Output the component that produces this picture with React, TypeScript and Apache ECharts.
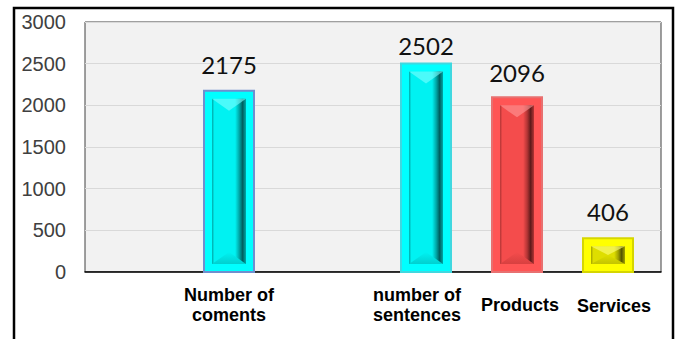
import React, { useEffect, useRef } from "react";
import * as echarts from "echarts";

// ---- data ----
const groups = ["Number of coments", "number of sentences"];
const barNames = ["Number of\ncoments", "number of\nsentences", "Products", "Services"];
const barGroup = [0, 1, 1, 1];
const barValues = [2175, 2502, 2096, 406];
const yMin = 0;
const yMax = 3000;
const yStep = 500;

// ---- styles ----
const BAR_W = 50;
const BAR_PITCH = 91;
const INSET = 8;
const valueRise = [26, 18, 25, 27];
const nameDx = [0, -9, 3, 6];
const nameDy = [33, 33, 33, 34];

const palettes = [
  { outline: "#6f8fcf", frame: "#00ffff", face: "#00f2f2", shade: "#00a8a8", dark: "#005e5e", light: "#7dffff", bottom: "#00d0d0" },
  { outline: "#3fd8e0", frame: "#00ffff", face: "#00f2f2", shade: "#00a8a8", dark: "#005e5e", light: "#7dffff", bottom: "#00d0d0" },
  { outline: "#e87070", frame: "#ff5555", face: "#f44c4c", shade: "#b33535", dark: "#5e1a1a", light: "#ff9a9a", bottom: "#d84040" },
  { outline: "#d6d600", frame: "#ffff00", face: "#dede00", shade: "#a3a300", dark: "#555500", light: "#ffff80", bottom: "#c4c400" },
];

export default function App() {
  const ref = useRef<HTMLDivElement>(null);
  useEffect(() => {
    if (!ref.current) return;
    const chart = echarts.init(ref.current, undefined, { renderer: "svg" });

    const renderItem = (params: any, api: any) => {
      const i = params.dataIndex;
      const g = barGroup[i];
      const members = barGroup.map((gg, k) => (gg === g ? k : -1)).filter((k) => k >= 0);
      const slot = members.indexOf(i);
      const top = api.coord([api.value(0), api.value(1)]);
      const base = api.coord([api.value(0), 0]);
      const cx = top[0] + (slot - (members.length - 1) / 2) * BAR_PITCH;
      const x0 = cx - BAR_W / 2;
      const h = base[1] - top[1];
      const p = palettes[i];
      const ix0 = x0 + INSET;
      const ix1 = x0 + BAR_W - INSET;
      const iy0 = top[1] + INSET;
      const iy1 = base[1] - INSET;
      const ih = iy1 - iy0;
      const tri = Math.min(12, ih / 2);
      const children: any[] = [
        {
          type: "rect",
          shape: { x: x0, y: top[1], width: BAR_W, height: h },
          style: { fill: p.frame, stroke: p.outline, lineWidth: 2 },
        },
        {
          type: "rect",
          shape: { x: ix0, y: iy0, width: ix1 - ix0, height: ih },
          style: {
            fill: new echarts.graphic.LinearGradient(0, 0, 1, 0, [
              { offset: 0, color: p.shade },
              { offset: 0.07, color: p.face },
              { offset: 0.68, color: p.face },
              { offset: 0.8, color: p.shade },
              { offset: 0.9, color: p.dark },
              { offset: 1, color: p.shade },
            ]),
          },
        },
        {
          type: "polygon",
          shape: { points: [[ix0, iy0], [ix1, iy0], [cx, iy0 + tri]] },
          style: { fill: p.light, opacity: 0.6 },
        },
        {
          type: "polygon",
          shape: { points: [[ix0, iy1], [ix1, iy1], [cx, iy1 - tri]] },
          style: {
            fill: new echarts.graphic.LinearGradient(0, 0, 0, 1, [
              { offset: 0, color: p.face },
              { offset: 1, color: p.bottom },
            ]),
          },
        },
        {
          type: "text",
          style: {
            text: String(barValues[i]),
            x: cx,
            y: top[1] - valueRise[i],
            fill: "#111",
            font: "24px Lato, 'Noto Sans', sans-serif",
            align: "center",
            verticalAlign: "middle",
          },
        },
        {
          type: "text",
          style: {
            text: barNames[i],
            x: cx + nameDx[i],
            y: base[1] + nameDy[i],
            fill: "#000",
            font: "bold 18px 'Liberation Sans', Arial, sans-serif",
            lineHeight: 20,
            align: "center",
            verticalAlign: "middle",
          },
        },
      ];
      return { type: "group", children };
    };

    chart.setOption({
      animation: false,
      grid: {
        left: 85,
        top: 22,
        right: 20,
        bottom: 67,
        show: true,
        backgroundColor: "#f2f2f2",
        borderColor: "#404040",
        borderWidth: 1,
      },
      graphic: [
        {
          type: "rect",
          shape: { x: 14, y: 8, width: 659, height: 345 },
          style: { fill: "none", stroke: "#000", lineWidth: 2.5 },
          silent: true,
          z: 100,
        },
      ],
      xAxis: {
        type: "category",
        data: groups,
        axisLine: { show: true, lineStyle: { color: "#000", width: 1.5 } },
        axisTick: { show: false },
        axisLabel: { show: false },
        splitLine: { show: false },
      },
      yAxis: {
        type: "value",
        min: yMin,
        max: yMax,
        interval: yStep,
        axisLine: { show: false },
        axisTick: { show: false },
        axisLabel: {
          color: "#404040",
          fontSize: 20,
          fontFamily: "'Liberation Sans', Arial, sans-serif",
          margin: 19,
          formatter: (v: number) => String(v),
        },
        splitLine: { lineStyle: { color: "#d9d9d9", width: 1 } },
      },
      series: [
        {
          type: "custom",
          renderItem,
          silent: true,
          clip: false,
          encode: { x: 0, y: 1 },
          data: barValues.map((v, i) => [barGroup[i], v]),
        },
      ],
    });
    return () => chart.dispose();
  }, []);
  return (
    <div
      ref={ref}
      style={{ position: "absolute", left: 0, top: 0, width: 681, height: 339, background: "#fff" }}
    />
  );
}
